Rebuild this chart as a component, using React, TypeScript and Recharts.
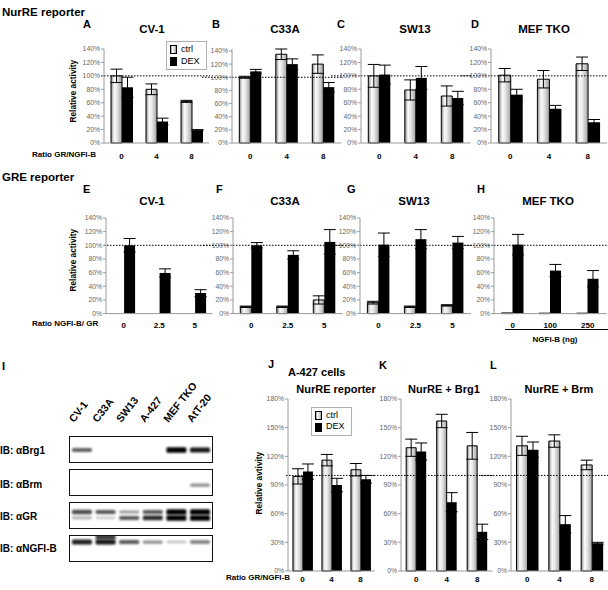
import React from 'react';
import {
  BarChart,
  Bar,
  XAxis,
  YAxis,
  ReferenceLine,
  ErrorBar,
  Legend,
  ScatterChart,
  Scatter,
} from 'recharts';

const FONT = '"Liberation Sans", Arial, Helvetica, sans-serif';

// categories
const ratioGR = ['0', '4', '8'];
const ratioNGFI = ['0', '2.5', '5'];
const ngfiDose = ['0', '100', '250'];
const ticks140 = [0, 20, 40, 60, 80, 100, 120, 140];
const ticks180 = [0, 30, 60, 90, 120, 150, 180];

// NurRE reporter (A-D)
const cv1NurCtrl = [100, 80, 62];
const cv1NurCtrlErr = [10, 8, 1.5];
const cv1NurDex = [83, 32, 19];
const cv1NurDexErr = [15, 5, 1];
const c33aNurCtrl = [100, 135, 120];
const c33aNurCtrlErr = [1.5, 8, 14];
const c33aNurDex = [109, 120, 85];
const c33aNurDexErr = [3, 8, 7];
const sw13NurCtrl = [100, 79, 70];
const sw13NurCtrlErr = [17, 15, 15];
const sw13NurDex = [102, 97, 67];
const sw13NurDexErr = [14, 17, 10];
const mefNurCtrl = [101, 95, 118];
const mefNurCtrlErr = [10, 13, 10];
const mefNurDex = [72, 51, 31];
const mefNurDexErr = [8, 5, 4];

// GRE reporter (E-H)
const cv1GreCtrl = [0, 0, 0];
const cv1GreCtrlErr = [0, 0, 0];
const cv1GreDex = [100, 59.5, 30];
const cv1GreDexErr = [10, 6, 5];
const c33aGreCtrl = [10, 10, 20];
const c33aGreCtrlErr = [1, 1, 6];
const c33aGreDex = [100, 86, 105];
const c33aGreDexErr = [4, 6, 18];
const sw13GreCtrl = [16, 10, 12];
const sw13GreCtrlErr = [2, 1, 1];
const sw13GreDex = [101, 109, 104];
const sw13GreDexErr = [17, 14, 9];
const mefGreCtrl = [1, 0.6, 0.6];
const mefGreCtrlErr = [0, 0, 0];
const mefGreDex = [101, 63, 51];
const mefGreDexErr = [15, 9, 12];

// A-427 cells (J-L)
const a427NurCtrl = [99, 116, 106];
const a427NurCtrlErr = [8, 6, 6.5];
const a427NurDex = [104, 90, 96];
const a427NurDexErr = [8, 7, 4];
const a427Brg1Ctrl = [129, 157, 131];
const a427Brg1CtrlErr = [9, 7, 14];
const a427Brg1Dex = [125, 72, 41];
const a427Brg1DexErr = [9, 10, 8];
const a427BrmCtrl = [131, 136, 111];
const a427BrmCtrlErr = [10, 6.5, 5];
const a427BrmDex = [127, 49, 29];
const a427BrmDexErr = [8, 9, 1];

// western blot (I): band strength per lane
const lanes = ['CV-1', 'C33A', 'SW13', 'A-427', 'MEF TKO', 'AtT-20'];
const brg1Level = [0.55, 0, 0, 0, 1, 0.9];
const brmLevel = [0, 0, 0, 0, 0, 0.35];
const grUpperLevel = [0.65, 0.6, 0.3, 0.6, 1, 1];
const grLowerLevel = [0.2, 0.1, 0.6, 0.8, 1, 1];
const ngfiLevel = [0.85, 0.9, 0.6, 0.35, 0.12, 0.45];
const ngfiUpperLevel = [0, 0.75, 0, 0, 0, 0];

const GRAD_CSS = 'linear-gradient(90deg, #8a8a8a 0%, #fafafa 30%, #e6e6e6 55%, #a0a0a0 100%)';

const Txt = ({ x, cy, size, center, weight = 700, children }: any) => (
  <div
    style={{
      position: 'absolute',
      left: center ? x - 100 : x,
      width: center ? 200 : undefined,
      textAlign: center ? 'center' : 'left',
      top: cy - 0.49 * size,
      fontSize: size,
      lineHeight: 1,
      fontWeight: weight,
      whiteSpace: 'nowrap',
      color: '#000',
    }}
  >
    {children}
  </div>
);

const VTxt = ({ cx, cy, size, children }: any) => (
  <div
    style={{
      position: 'absolute',
      left: cx - 60,
      top: cy - size / 2,
      width: 120,
      height: size,
      lineHeight: `${size}px`,
      textAlign: 'center',
      fontSize: size,
      fontWeight: 700,
      transform: 'rotate(-90deg)',
      whiteSpace: 'nowrap',
    }}
  >
    {children}
  </div>
);

const legendRank = (e: any) => (e.dataKey === 'ctrl' ? 0 : 1);

const legendContent = (props: any) => (
  <div
    style={{
      border: '1px solid #b0b0b0',
      background: '#fff',
      padding: '2px 6px 2px 3px',
      fontFamily: FONT,
      fontSize: 9,
      lineHeight: '11.5px',
      color: '#000',
    }}
  >
    {[...(props.payload || [])]
      .sort((a: any, b: any) => legendRank(a) - legendRank(b))
      .map((e: any) => (
        <div key={e.value} style={{ display: 'flex', alignItems: 'center' }}>
          <span
            style={{
              display: 'inline-block',
              width: 5,
              height: 7,
              marginRight: 4,
              border: '1px solid #000',
              background: e.dataKey === 'ctrl' ? GRAD_CSS : '#000',
            }}
          />
          {e.value}
        </div>
      ))}
  </div>
);

function Panel(p: any) {
  const AXW = 30;
  const MT = 6;
  const XH = 22;
  const data = p.cats.map((c: string, i: number) => ({
    cat: c,
    ctrl: p.ctrl[i],
    ctrlErr: p.ctrlErr[i],
    dex: p.dex[i],
    dexErr: p.dexErr[i],
  }));
  const left = p.axisX - AXW;
  const top = p.plotTop - MT;
  const gid = `grad-${p.id}`;
  return (
    <div style={{ position: 'absolute', left, top }}>
      <BarChart
        width={AXW + p.plotW + 1}
        height={MT + p.plotH + XH}
        data={data}
        margin={{ top: MT, right: 1, bottom: 0, left: 0 }}
        barGap={0}
        barCategoryGap={p.gap}
      >
        <defs>
          <linearGradient id={gid} x1="0" y1="0" x2="1" y2="0">
            <stop offset="0%" stopColor="#8a8a8a" />
            <stop offset="30%" stopColor="#fafafa" />
            <stop offset="55%" stopColor="#e6e6e6" />
            <stop offset="100%" stopColor="#a0a0a0" />
          </linearGradient>
        </defs>
        <XAxis
          dataKey="cat"
          height={XH}
          interval={0}
          tickLine={false}
          tickMargin={p.tickGap}
          axisLine={{ stroke: '#9a9a9a' }}
          tick={{ fontSize: 8, fontWeight: 700, fill: '#000', fontFamily: FONT }}
        />
        <YAxis
          width={AXW}
          domain={[0, p.yMax]}
          ticks={p.ticks}
          interval={0}
          tickFormatter={(v: number) => `${v}%`}
          tickSize={3}
          tickMargin={1}
          axisLine={{ stroke: '#9a9a9a' }}
          tickLine={{ stroke: '#9a9a9a' }}
          tick={{ fontSize: 6.8, fill: '#666', fontFamily: FONT }}
        />
        <ReferenceLine
          y={100}
          shape={(s: any) => (
            <line
              x1={s.x1 - p.lineLeft}
              x2={s.x2 + 1}
              y1={s.y1}
              y2={s.y2}
              stroke="#000"
              strokeWidth={1}
              strokeDasharray="1.5 1.5"
            />
          )}
        />
        <Bar dataKey="ctrl" name="ctrl" fill={`url(#${gid})`} stroke="#000" strokeWidth={1} isAnimationActive={false}>
          <ErrorBar dataKey="ctrlErr" direction="y" width={6} stroke="#000" strokeWidth={1} />
        </Bar>
        <Bar dataKey="dex" name="DEX" fill="#000" isAnimationActive={false}>
          <ErrorBar dataKey="dexErr" direction="y" width={6} stroke="#000" strokeWidth={1} />
        </Bar>
        {p.legendAt && (
          <Legend
            layout="vertical"
            align="center"
            verticalAlign="middle"
            content={legendContent}
            wrapperStyle={{ left: p.legendAt[0] - left, top: p.legendAt[1] - top, width: 'auto', height: 'auto' }}
          />
        )}
      </BarChart>
    </div>
  );
}

const bandRow = (levels: number[], pos: number) =>
  levels.map((level, i) => ({ lane: i + 1, pos, level })).filter((d) => d.level > 0);

const bandShape = (fid: string) => (s: any) => {
  const lv = s.payload.level;
  const h = 2 + lv * 3.5;
  return (
    <rect
      x={s.cx - 10}
      y={s.cy - h / 2}
      width={20}
      height={h}
      rx={1.5}
      fill="#000"
      fillOpacity={Math.min(1, 0.15 + lv * 0.85)}
      filter={`url(#${fid})`}
    />
  );
};

const BLOT_X = 69;
const BLOT_W = 144;
const STRIP_H = 27;
const LANE_DOMAIN = [0.45, 6.55];

function Strip({ id, top, rows, labels }: any) {
  const head = labels ? 60 : 0;
  const padL = labels ? 10 : 0;
  const padR = labels ? 24 : 0;
  const fid = `blur-${id}`;
  return (
    <>
      <div style={{ position: 'absolute', left: BLOT_X - padL, top: top - head }}>
        <ScatterChart
          width={BLOT_W + padL + padR}
          height={STRIP_H + head}
          margin={{ top: 0, right: padR, bottom: 0, left: padL }}
        >
          <defs>
            <filter id={fid} x="-20%" y="-100%" width="140%" height="300%">
              <feGaussianBlur stdDeviation="0.8" />
            </filter>
          </defs>
          <XAxis
            type="number"
            dataKey="lane"
            domain={LANE_DOMAIN}
            ticks={[1, 2, 3, 4, 5, 6]}
            interval={0}
            hide={!labels}
            orientation="top"
            height={head}
            axisLine={false}
            tickLine={false}
            tickSize={0}
            tickMargin={13}
            tick={(t: any) => (
              <text
                x={t.x - 8}
                y={t.y}
                transform={`rotate(-52 ${t.x - 8} ${t.y})`}
                textAnchor="start"
                fontSize={10.5}
                fontWeight={700}
                fontFamily={FONT}
                fill="#000"
              >
                {lanes[t.payload.value - 1]}
              </text>
            )}
          />
          <YAxis type="number" dataKey="pos" domain={[0, 1]} hide />
          {rows.map((r: any, i: number) => (
            <Scatter key={i} data={r} shape={bandShape(fid)} isAnimationActive={false} />
          ))}
        </ScatterChart>
      </div>
      <div
        style={{
          position: 'absolute',
          left: BLOT_X,
          top,
          width: BLOT_W,
          height: STRIP_H,
          border: '1px solid #111',
          boxSizing: 'border-box',
        }}
      />
    </>
  );
}

export default function App() {
  const r1 = { plotTop: 48.7, plotH: 94, yMax: 140, ticks: ticks140, cats: ratioGR, gap: '20%', tickGap: 4 };
  const r2 = { plotTop: 217.7, plotH: 95.6, yMax: 140, ticks: ticks140, cats: ratioNGFI, gap: '20%', tickGap: 2.5 };
  const r3 = { plotTop: 398.6, plotH: 172, yMax: 180, ticks: ticks180, cats: ratioGR, gap: '17%', tickGap: -1 };
  return (
    <div
      style={{
        position: 'absolute',
        left: 0,
        top: 0,
        width: 608,
        height: 590,
        background: '#fff',
        overflow: 'hidden',
        fontFamily: FONT,
      }}
    >
      {/* row 1 */}
      <Txt x={2} cy={13} size={11.5}>NurRE reporter</Txt>
      <Txt x={83} cy={24} size={11}>A</Txt>
      <Txt x={212} cy={24} size={11}>B</Txt>
      <Txt x={337} cy={24} size={11}>C</Txt>
      <Txt x={471} cy={24} size={11}>D</Txt>
      <Txt x={152} cy={30} size={11.5} center>CV-1</Txt>
      <Txt x={285} cy={30} size={11.5} center>C33A</Txt>
      <Txt x={415} cy={30} size={11.5} center>SW13</Txt>
      <Txt x={544} cy={30} size={11.5} center>MEF TKO</Txt>
      <VTxt cx={73} cy={91} size={8.3}>Relative activity</VTxt>
      <Txt x={32} cy={155} size={8}>Ratio GR/NGFI-B</Txt>
      <Panel id="a" {...r1} axisX={104} plotW={105} lineLeft={3} legendAt={[166, 41]}
        ctrl={cv1NurCtrl} ctrlErr={cv1NurCtrlErr} dex={cv1NurDex} dexErr={cv1NurDexErr} />
      <Panel id="b" {...r1} axisX={232} plotW={109.5} lineLeft={30}
        ctrl={c33aNurCtrl} ctrlErr={c33aNurCtrlErr} dex={c33aNurDex} dexErr={c33aNurDexErr} />
      <Panel id="c" {...r1} axisX={361} plotW={109.5} lineLeft={30}
        ctrl={sw13NurCtrl} ctrlErr={sw13NurCtrlErr} dex={sw13NurDex} dexErr={sw13NurDexErr} />
      <Panel id="d" {...r1} axisX={491} plotW={116} lineLeft={30}
        ctrl={mefNurCtrl} ctrlErr={mefNurCtrlErr} dex={mefNurDex} dexErr={mefNurDexErr} />

      {/* row 2 */}
      <Txt x={2} cy={178} size={11.5}>GRE reporter</Txt>
      <Txt x={83} cy={189} size={11}>E</Txt>
      <Txt x={216} cy={189} size={11}>F</Txt>
      <Txt x={347} cy={189} size={11}>G</Txt>
      <Txt x={477} cy={189} size={11}>H</Txt>
      <Txt x={152} cy={202} size={11.5} center>CV-1</Txt>
      <Txt x={285} cy={202} size={11.5} center>C33A</Txt>
      <Txt x={414} cy={202} size={11.5} center>SW13</Txt>
      <Txt x={548} cy={202} size={11.5} center>MEF TKO</Txt>
      <VTxt cx={73} cy={260} size={8.3}>Relative activity</VTxt>
      <Txt x={32} cy={324} size={8}>Ratio NGFI-B/ GR</Txt>
      <Panel id="e" {...r2} axisX={106} plotW={106.5} lineLeft={2}
        ctrl={cv1GreCtrl} ctrlErr={cv1GreCtrlErr} dex={cv1GreDex} dexErr={cv1GreDexErr} />
      <Panel id="f" {...r2} axisX={232.5} plotW={109.5} lineLeft={30}
        ctrl={c33aGreCtrl} ctrlErr={c33aGreCtrlErr} dex={c33aGreDex} dexErr={c33aGreDexErr} />
      <Panel id="g" {...r2} axisX={360} plotW={111} lineLeft={30}
        ctrl={sw13GreCtrl} ctrlErr={sw13GreCtrlErr} dex={sw13GreDex} dexErr={sw13GreDexErr} />
      <Panel id="h" {...r2} cats={ngfiDose} axisX={494} plotW={112.5} lineLeft={30}
        ctrl={mefGreCtrl} ctrlErr={mefGreCtrlErr} dex={mefGreDex} dexErr={mefGreDexErr} />
      <div style={{ position: 'absolute', left: 505, top: 329, width: 103, borderTop: '1px solid #000' }} />
      <Txt x={555} cy={340} size={8} center>NGFI-B (ng)</Txt>

      {/* row 3: blot */}
      <Txt x={2} cy={366} size={11}>I</Txt>
      <Txt x={0} cy={451} size={10}>IB: αBrg1</Txt>
      <Txt x={0} cy={485} size={10}>IB: αBrm</Txt>
      <Txt x={0} cy={517} size={10}>IB: αGR</Txt>
      <Txt x={0} cy={549} size={10}>IB: αNGFI-B</Txt>
      <Strip id="brg1" top={436} labels rows={[bandRow(brg1Level, 0.48)]} />
      <Strip id="brm" top={469} rows={[bandRow(brmLevel, 0.4)]} />
      <Strip id="gr" top={502} rows={[bandRow(grUpperLevel, 0.63), bandRow(grLowerLevel, 0.41)]} />
      <Strip id="ngfi" top={535} rows={[bandRow(ngfiLevel, 0.74), bandRow(ngfiUpperLevel, 0.92)]} />

      {/* row 3: A-427 */}
      <Txt x={268} cy={364} size={11}>J</Txt>
      <Txt x={288} cy={372} size={11}>A-427 cells</Txt>
      <Txt x={336} cy={389} size={11} center>NurRE reporter</Txt>
      <Txt x={379} cy={365} size={11}>K</Txt>
      <Txt x={444} cy={389} size={11} center>NurRE + Brg1</Txt>
      <Txt x={490} cy={365} size={11}>L</Txt>
      <Txt x={559} cy={389} size={11} center>NurRE + Brm</Txt>
      <VTxt cx={259} cy={483} size={8.3}>Relative avtivity</VTxt>
      <Txt x={226} cy={578} size={8}>Ratio GR/NGFI-B</Txt>
      <Panel id="j" {...r3} axisX={288} plotW={87} lineLeft={2} legendAt={[311, 407]}
        ctrl={a427NurCtrl} ctrlErr={a427NurCtrlErr} dex={a427NurDex} dexErr={a427NurDexErr} />
      <Panel id="k" {...r3} axisX={401} plotW={91.5} lineLeft={30}
        ctrl={a427Brg1Ctrl} ctrlErr={a427Brg1CtrlErr} dex={a427Brg1Dex} dexErr={a427Brg1DexErr} />
      <Panel id="l" {...r3} axisX={511} plotW={97} lineLeft={30}
        ctrl={a427BrmCtrl} ctrlErr={a427BrmCtrlErr} dex={a427BrmDex} dexErr={a427BrmDexErr} />
    </div>
  );
}
